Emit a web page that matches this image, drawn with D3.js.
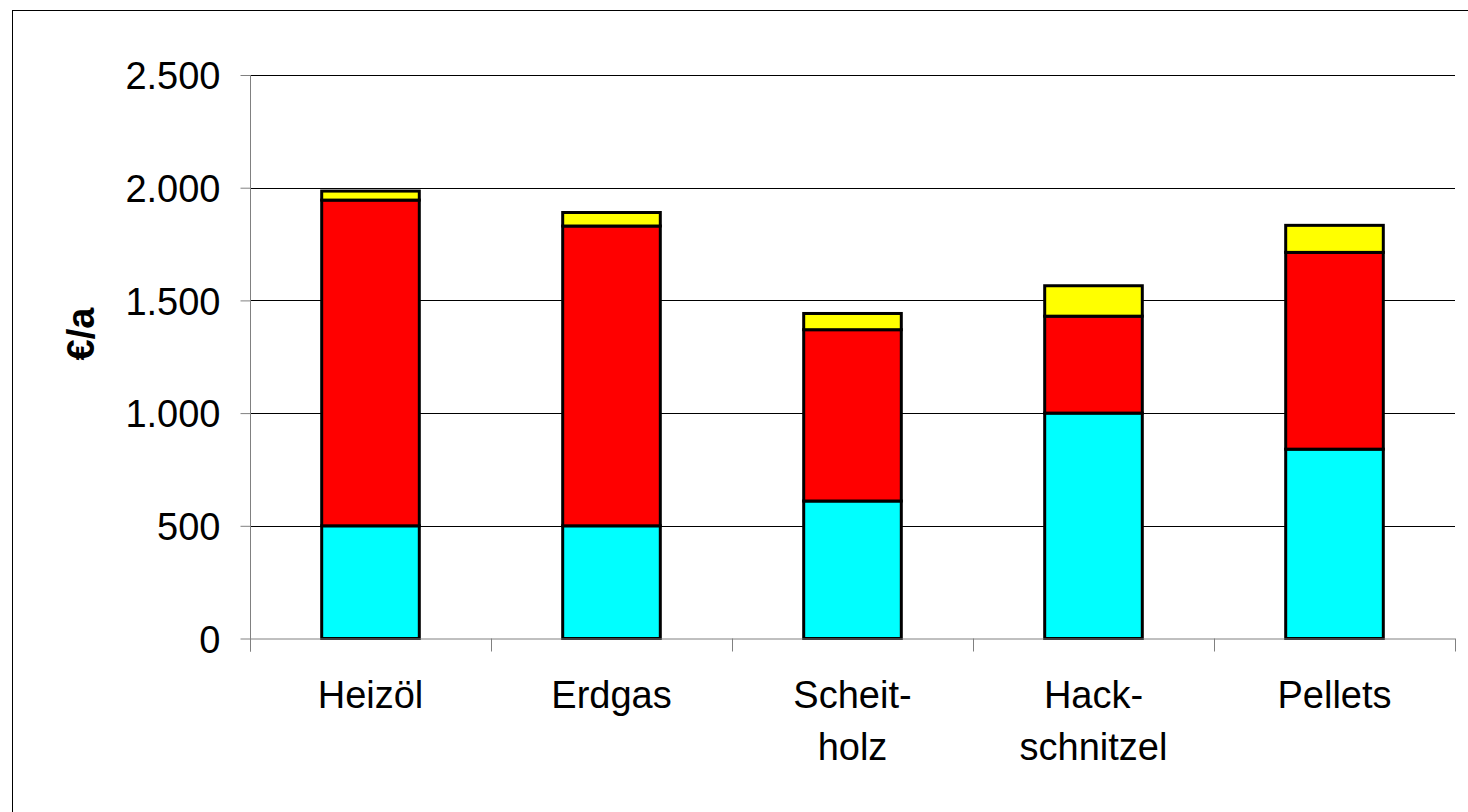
<!DOCTYPE html>
<html><head><meta charset="utf-8">
<script src="https://cdn.jsdelivr.net/npm/d3@7/dist/d3.min.js"></script>
<style>body{margin:0;background:#fff}svg{display:block}</style>
</head><body>
<svg id="c" width="1468" height="812"></svg>
<script>
const categories = [["Heizöl"], ["Erdgas"], ["Scheit-", "holz"], ["Hack-", "schnitzel"], ["Pellets"]];
const catKeys = ["Heizöl", "Erdgas", "Scheitholz", "Hackschnitzel", "Pellets"];
const seriesCyan = [500, 500, 610, 1000, 840];
const seriesRed = [1445, 1330, 760, 430, 873];
const seriesYellow = [40, 60, 72, 135, 120];
const yTicks = [0, 500, 1000, 1500, 2000, 2500];
const yTickLabels = ["0", "500", "1.000", "1.500", "2.000", "2.500"];
const colors = ["#00FFFF", "#FF0000", "#FFFF00"];

const svg = d3.select("#c");
const L = 250, R = 1455, T = 75, B = 638.5;
const font = "'Liberation Sans', Arial, sans-serif";

svg.append("rect").attr("x", 12.5).attr("y", 10.5).attr("width", 1480).attr("height", 820)
  .attr("fill", "#fff").attr("stroke", "#000").attr("stroke-width", 1);

const x = d3.scaleBand().domain(catKeys).range([L, R]).paddingInner(0).paddingOuter(0);
const y = d3.scaleLinear().domain([0, 2500]).range([B, T]);

// gridlines
svg.append("g").selectAll("line").data(yTicks.slice(1)).join("line")
  .attr("x1", L).attr("x2", R).attr("y1", d => Math.round(y(d)) + 0.5).attr("y2", d => Math.round(y(d)) + 0.5)
  .attr("stroke", "#000").attr("stroke-width", 1);

// stacked bars
const rows = catKeys.map((k, i) => ({key: k, c: seriesCyan[i], r: seriesRed[i], yl: seriesYellow[i]}));
const stack = d3.stack().keys(["c", "r", "yl"])(rows);
const bw = x.bandwidth() * 0.405;
stack.forEach((s, si) => {
  svg.append("g").selectAll("rect").data(s).join("rect")
    .attr("x", d => x(d.data.key) + (x.bandwidth() - bw) / 2)
    .attr("y", d => y(d[1]))
    .attr("width", bw)
    .attr("height", d => y(d[0]) - y(d[1]))
    .attr("fill", colors[si]).attr("stroke", "#000").attr("stroke-width", 3);
});

// axes
const yAxis = d3.axisLeft(y).tickValues(yTicks).tickSize(10).tickPadding(20)
  .tickFormat((d, i) => yTickLabels[i]);
const gy = svg.append("g").attr("transform", `translate(${L + 0.5},0)`).call(yAxis);
gy.select(".domain").attr("d", `M0,${T}V${B + 13}`).attr("stroke", "#808080");
gy.selectAll(".tick line").attr("stroke", "#808080");
gy.selectAll("text").attr("font-family", font).attr("font-size", 38).attr("fill", "#000").attr("dy", "0.36em");

// x axis
const gx = svg.append("g");
gx.append("line").attr("x1", L).attr("x2", R).attr("y1", B + 0.5).attr("y2", B + 0.5).attr("stroke", "#808080");
const bounds = catKeys.map(k => x(k)).concat([R]);
gx.selectAll("line.t").data(bounds).join("line").attr("class", "t")
  .attr("x1", d => Math.round(d) + 0.5).attr("x2", d => Math.round(d) + 0.5)
  .attr("y1", B).attr("y2", B + 13).attr("stroke", "#808080");
catKeys.forEach((k, i) => {
  const t = gx.append("text").attr("x", x(k) + x.bandwidth() / 2).attr("y", 708)
    .attr("text-anchor", "middle").attr("font-family", font).attr("font-size", 38).attr("fill", "#000");
  categories[i].forEach((line, j) => {
    t.append("tspan").attr("x", x(k) + x.bandwidth() / 2).attr("dy", j === 0 ? 0 : 52).text(line);
  });
});

// y label
svg.append("text").attr("transform", "translate(94,334) rotate(-90)")
  .attr("text-anchor", "middle").attr("font-family", font).attr("font-size", 38)
  .attr("font-weight", "bold").attr("fill", "#000").text("€/a");
</script>
</body></html>
